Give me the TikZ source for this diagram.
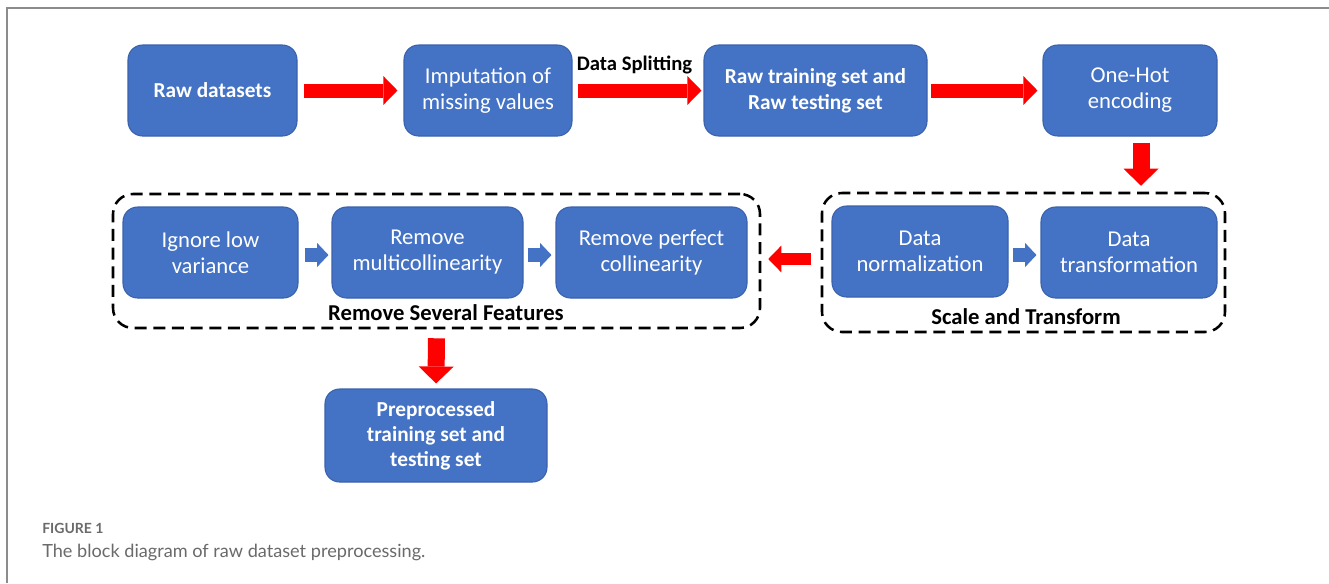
\documentclass[tikz,border=0pt]{standalone}
\usepackage{fontspec}
\setmainfont{Carlito}
\newfontfamily\capfont{Lato}
\usetikzlibrary{arrows.meta,calc}
\definecolor{boxblue}{HTML}{4472C4}
\definecolor{boxedge}{HTML}{3A62AD}
\definecolor{framegray}{HTML}{8C8C8C}
\definecolor{capgray}{HTML}{6A6A6A}
\definecolor{arrred}{HTML}{FF0000}
\begin{document}
\begin{tikzpicture}[x=0.75pt,y=-0.75pt,
  box/.style={draw=boxedge, line width=0.8pt, fill=boxblue, rounded corners=11pt,
    text=white, align=center, inner sep=0pt, font=\fontsize{17}{19.5}\selectfont},
  boldbox/.style={box, font=\fontsize{16}{19.5}\selectfont\bfseries},
  sz/.style 2 args={minimum width=#1*0.75pt, minimum height=#2*0.75pt},
  grp/.style={draw=black, line width=1.9pt, dash pattern=on 9pt off 5pt,
    rounded corners=15pt, inner sep=0pt},
  lbl/.style={text=black, inner sep=0pt, font=\fontsize{17}{20}\selectfont\bfseries},
  harrow/.style={draw=arrred, line width=10.5pt,
    -{Triangle[width=21.5pt,length=10.5pt,line width=0pt]}},
  varrow/.style={draw=arrred, line width=12.75pt,
    -{Triangle[width=26.25pt,length=12.75pt,line width=0pt]}},
  larrow/.style={draw=arrred, line width=9pt,
    -{Triangle[width=20pt,length=9.75pt,line width=0pt]}},
  sarrow/.style={draw=boxblue, line width=10.5pt,
    -{Triangle[width=18pt,length=8.5pt,line width=0pt]}}
]
\useasboundingbox (0,0) rectangle (1329,583);
\fill[white] (0,0) rectangle (1329,583);
\draw[framegray, line width=1.1pt] (7,583) -- (7,8) -- (1329,8);

% top row
\node[boldbox, sz={169}{91}] (raw) at (212.5,90.5) {Raw datasets};
\node[box, sz={168}{91}] (imp) at (488,90.5) {Imputation of\\missing values};
\node[boldbox, sz={223}{91}] (split) at (815.5,90.5) {Raw training set and\\Raw testing set};
\node[box, sz={174}{91}] (onehot) at (1130,90.5) {One-Hot\\encoding};

% second row
\node[box, sz={175}{91}] (ignore) at (210.5,252.5) {Ignore low\\variance};
\node[box, sz={191}{91}] (multi) at (427.5,252.5) {Remove\\multicollinearity};
\node[box, sz={191}{91}] (perfect) at (651.5,252.5) {Remove perfect\\collinearity};
\node[box, sz={176}{91}] (norm) at (920,251.5) {Data\\normalization};
\node[box, sz={176}{91}] (trans) at (1129,252.5) {Data\\transformation};

% groups
\node[grp, sz={647}{134}] (leftgrp) at (436.5,261) {};
\node[grp, sz={403}{139}] (rightgrp) at (1023.5,262.5) {};
\node[lbl] (rsf) at (446,313) {Remove Several Features};
\node[lbl] (sat) at (1026,317) {Scale and Transform};

% final box
\node[boldbox, sz={222}{93}, font=\fontsize{16}{18.75}\selectfont\bfseries] (pre) at (436,435.5)
  {Preprocessed\\training set and\\testing set};

% arrows top row
\draw[harrow, shorten <=4.5pt, shorten >=4.5pt] (raw.east) -- (imp.west);
\draw[harrow, shorten <=3.75pt, shorten >=1.5pt] (imp.east) -- (split.west);
\node[lbl, font=\fontsize{15.5}{18}\selectfont\bfseries] (dsl) at (634.5,65) {Data Splitting};
\draw[harrow, shorten <=2.25pt, shorten >=3.75pt] (split.east) -- (onehot.west);

% down from one-hot
\coordinate (d1) at ($(onehot.south)+(11,0)$);
\draw[varrow, shorten <=4.5pt, shorten >=4.5pt] (d1) -- (d1 |- rightgrp.north);

% left arrow between groups
\coordinate (la) at ($(rightgrp.west)+(0,-3.5)$);
\draw[larrow, shorten <=7.5pt, shorten >=5.25pt] (la) -- (la -| leftgrp.east);

% down to preprocessed
\draw[varrow, shorten <=6.75pt, shorten >=3.75pt] (leftgrp.south) -- (pre.north);

% small blue arrows
\draw[sarrow, shorten <=4.5pt, shorten >=2.25pt] ($(ignore.east)+(0,2.5)$) -- ($(multi.west)+(0,2.5)$);
\draw[sarrow, shorten <=3pt, shorten >=3pt] ($(multi.east)+(0,2.5)$) -- ($(perfect.west)+(0,2.5)$);
\coordinate (nb) at ($(norm.east)+(0,3.5)$);
\draw[sarrow, shorten <=3pt, shorten >=3pt] (nb) -- (nb -| trans.west);

% caption
\node[anchor=west, inner sep=0pt, text=capgray, font=\capfont\fontsize{10.5}{12}\selectfont\bfseries] (fig) at (42,528) {FIGURE 1};
\node[anchor=west, inner sep=0pt, text=capgray, font=\capfont\fontsize{13.6}{16}\selectfont] (cap) at (42,552) {The block diagram of raw dataset preprocessing.};
\end{tikzpicture}
\end{document}
